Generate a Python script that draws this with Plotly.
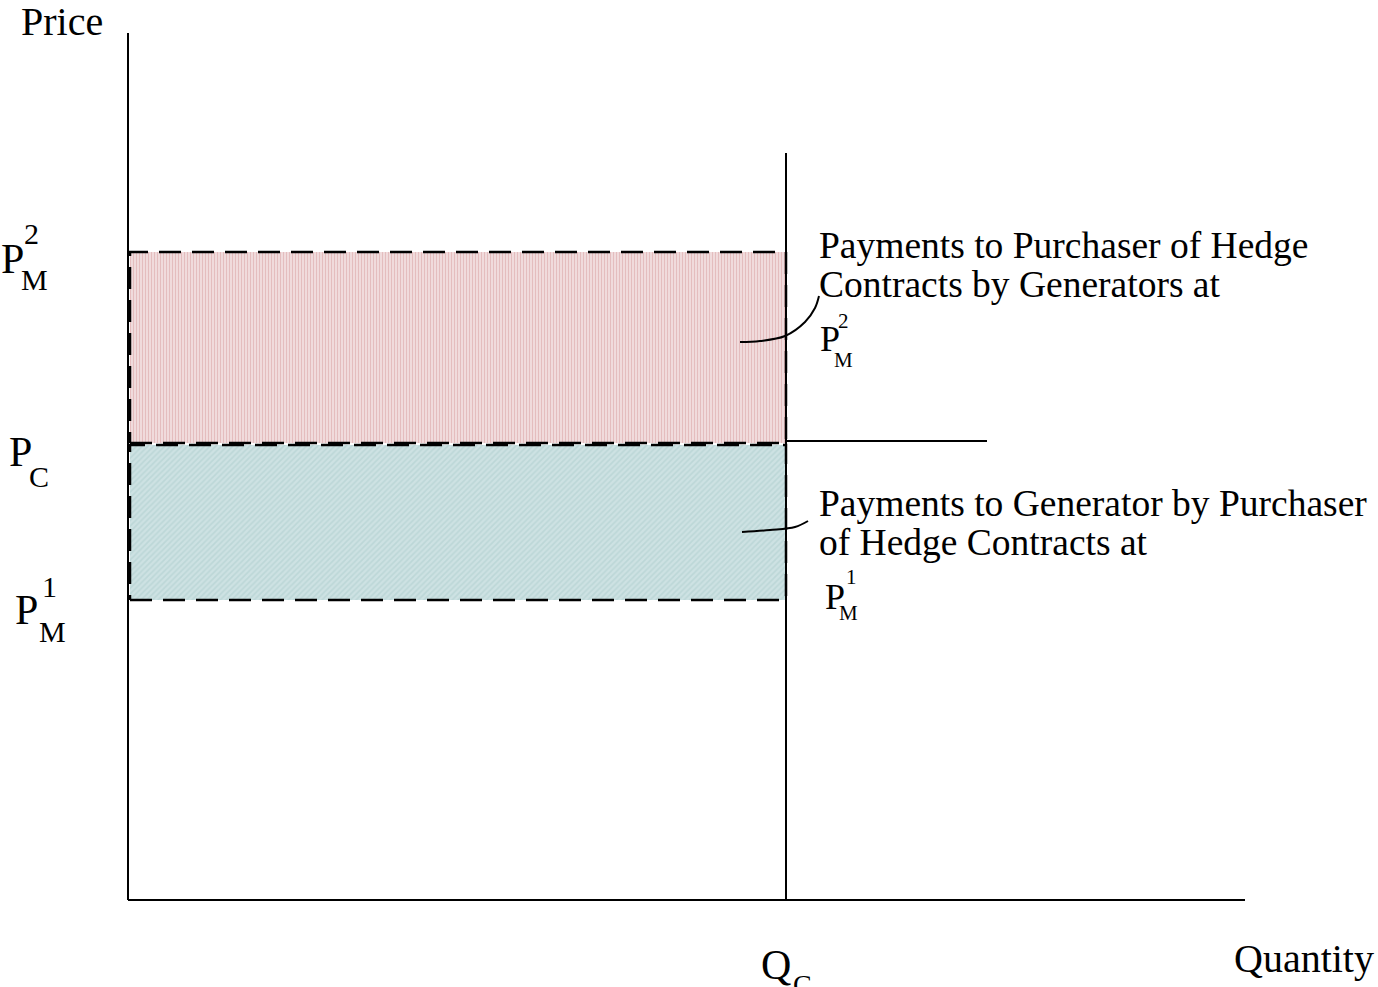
import plotly.graph_objects as go

# ---- data (chart units: origin at axes corner) ----
quantity_axis_max = 1117
price_axis_max = 867
q_c = 658
p_m2 = 648
p_c = 457
p_m1 = 300
p_c_line_end = 859
qc_line_top = 747

leader1_x = [612, 632, 657, 677, 687, 691]
leader1_y = [558, 559, 564, 578, 592, 604]
leader2_x = [614, 642, 667, 680]
leader2_y = [368, 370, 373, 379]

label_top = ["Payments to Purchaser of Hedge", "Contracts by Generators at"]
label_bottom = ["Payments to Generator by Purchaser", "of Hedge Contracts at"]

FONT = "Liberation Serif, Times New Roman, serif"
X0, Y0 = 128, 900  # pixel position of origin


def X(px):
    return px - X0


def Y(py):
    return Y0 - py


fig = go.Figure()

# shaded areas
fig.add_trace(go.Scatter(
    x=[2, q_c, q_c, 2, 2], y=[p_c, p_c, p_m2, p_m2, p_c],
    fill="toself", mode="lines",
    line=dict(color="black", width=2.5, dash="22px,11px"),
    fillcolor="rgba(0,0,0,0)",
    fillpattern=dict(shape="|", size=3, solidity=0.7, fgcolor="#c97b7e", bgcolor="#ffffff"),
    hoverinfo="skip", showlegend=False))
fig.add_trace(go.Scatter(
    x=[2, q_c, q_c, 2, 2], y=[p_m1, p_m1, p_c - 2, p_c - 2, p_m1],
    fill="toself", mode="lines",
    line=dict(color="black", width=2.5, dash="22px,11px"),
    fillcolor="rgba(0,0,0,0)",
    fillpattern=dict(shape="/", size=4, solidity=0.4, fgcolor="#abcbcb", bgcolor="#cde2e3"),
    hoverinfo="skip", showlegend=False))

# axes lines
fig.add_trace(go.Scatter(x=[0, 0], y=[price_axis_max, 0], mode="lines",
                         line=dict(color="black", width=2), hoverinfo="skip", showlegend=False))
fig.add_trace(go.Scatter(x=[0, quantity_axis_max], y=[0, 0], mode="lines",
                         line=dict(color="black", width=2), hoverinfo="skip", showlegend=False))
fig.add_trace(go.Scatter(x=[q_c, q_c], y=[0, qc_line_top], mode="lines",
                         line=dict(color="black", width=2), hoverinfo="skip", showlegend=False))
fig.add_trace(go.Scatter(x=[q_c, p_c_line_end], y=[p_c + 2, p_c + 2], mode="lines",
                         line=dict(color="black", width=2), hoverinfo="skip", showlegend=False))

# leader curves
for lx, ly in [(leader1_x, leader1_y), (leader2_x, leader2_y)]:
    fig.add_trace(go.Scatter(x=lx, y=ly, mode="lines", line=dict(color="black", width=2, shape="spline"),
                             hoverinfo="skip", showlegend=False))

ann = []


def txt(xl, base, text, size):
    # xl: left pixel, base: baseline pixel
    ann.append(dict(x=X(xl), y=Y(base) + 0.30 * size, text=text, xanchor="left", yanchor="middle",
                    showarrow=False, font=dict(family=FONT, size=size, color="black"), borderpad=0))


txt(20, 33, "Price", 40)
txt(1233, 970, "Quantity", 40)
txt(760, 978, "Q", 42)
txt(792, 993, "C", 28)

# left labels
txt(0, 272, "P", 42)
txt(23, 242, "2", 30)
txt(20, 288, "M", 30)
txt(8, 465, "P", 42)
txt(28, 485, "C", 30)
txt(14, 623, "P", 42)
txt(41, 595, "1", 30)
txt(38, 640, "M", 30)

# right labels
for i, s in enumerate(label_top):
    txt(818, 257 + 39 * i, s, 37.5)
for i, s in enumerate(label_bottom):
    txt(818, 515 + 39 * i, s, 37.5)
txt(819, 350, "P", 36)
txt(837, 327, "2", 21)
txt(833, 366, "M", 21)
txt(824, 608, "P", 36)
txt(845, 583, "1", 21)
txt(838, 619, "M", 21)

fig.update_layout(
    width=1378, height=987,
    margin=dict(l=0, r=0, t=0, b=0),
    paper_bgcolor="white", plot_bgcolor="white",
    xaxis=dict(range=[-X0, 1378 - X0], visible=False, fixedrange=True),
    yaxis=dict(range=[Y0 - 987, Y0], visible=False, fixedrange=True),
    annotations=ann,
)

fig.write_html("out.html", config={"displayModeBar": False},
               post_script="document.body.style.margin='0';document.body.style.overflow='hidden';")
